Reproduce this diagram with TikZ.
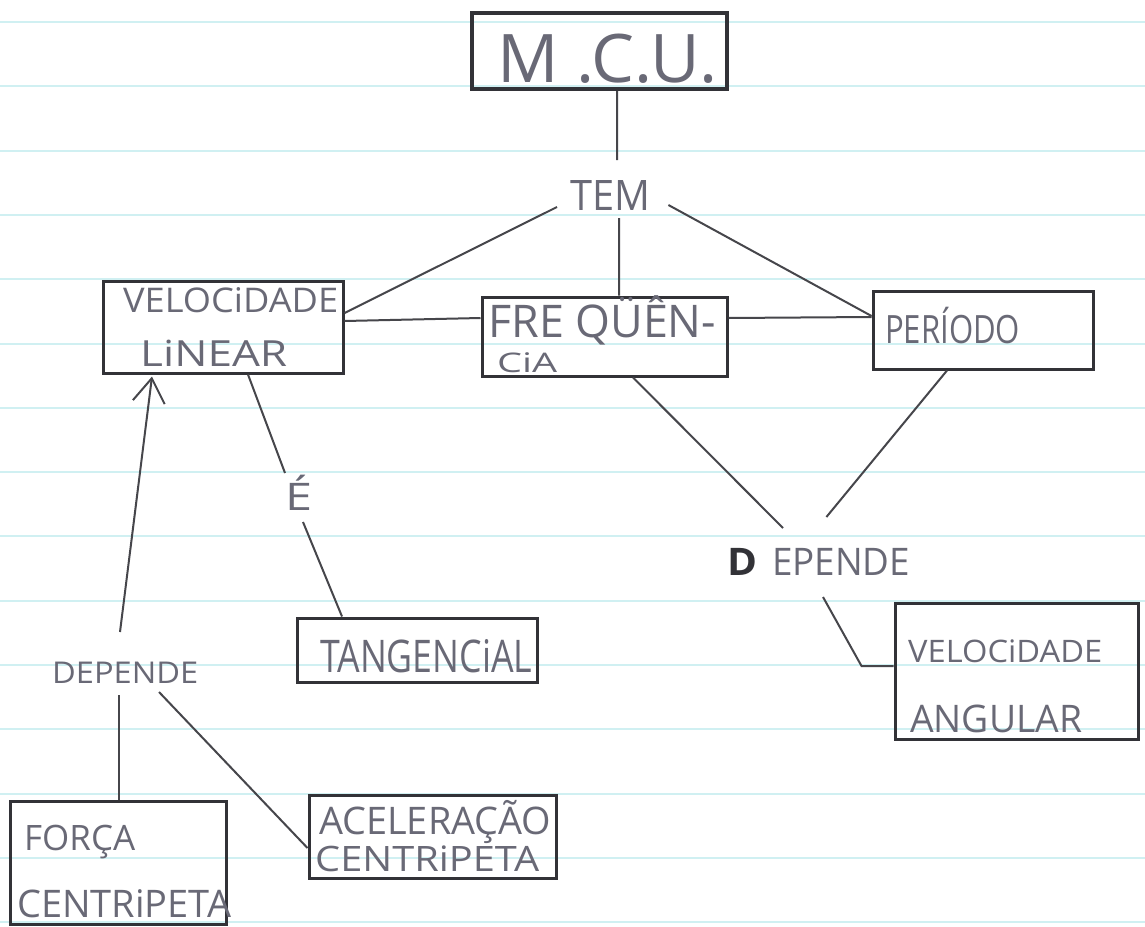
\documentclass[tikz,border=0pt]{standalone}
\usepackage{fontspec}
\setmainfont{Open Sans}
\usepackage{graphicx}
\usetikzlibrary{calc,arrows.meta}

\definecolor{paper}{RGB}{255,255,255}
\definecolor{rule}{RGB}{208,240,242}
\definecolor{boxink}{RGB}{50,50,55}
\definecolor{lineink}{RGB}{70,70,75}
\definecolor{pencil}{RGB}{105,105,118}

% hand-lettered word: font size, exact width, text
\newcommand\hw[3]{{\fontsize{#1pt}{#1pt}\selectfont\resizebox{#2pt}{\height}{#3}}}

\begin{document}
\begin{tikzpicture}[x=1pt,y=-1pt,
  box/.style={draw=boxink, line width=3pt, rectangle, inner sep=0pt},
  word/.style={anchor=base west, inner sep=0pt, text=pencil},
  link/.style={draw=lineink, line width=2pt},
]
% ruled notebook paper
\fill[paper] (0,0) rectangle (1145,926);
\useasboundingbox (0,0) rectangle (1145,926);
\foreach \k in {0,...,14}
  \draw[rule, line width=2pt] (0,22+64.3*\k) -- (1145,22+64.3*\k);

% concept boxes
\node[box, line width=4pt, minimum width=255pt, minimum height=76pt] (mcu) at (599.5,51) {};
\node[box, minimum width=240pt, minimum height=92pt] (vl) at (223,327) {};
\node[box, minimum width=245pt, minimum height=79pt] (freq) at (604.5,336.5) {};
\node[box, minimum width=220pt, minimum height=78pt] (per) at (983,330) {};
\node[box, minimum width=240pt, minimum height=64pt] (tang) at (417,650) {};
\node[box, minimum width=243pt, minimum height=136pt] (va) at (1016.5,671) {};
\node[box, minimum width=216pt, minimum height=123pt] (forca) at (118,862.5) {};
\node[box, minimum width=247pt, minimum height=83pt] (acel) at (432.5,836.5) {};

% words inside the boxes
\node[word] (mcuT) at (497,82) {\hw{67}{220}{M .C.U.}};
\node[word] (vlA) at (123,312) {\hw{34}{215}{VELOCiDADE}};
\node[word] (vlB) at (140,366) {\hw{36}{147}{LiNEAR}};
\node[word] (freqA) at (488,337) {\hw{45}{228}{FRE QÜÊN-}};
\node[word] (freqB) at (497,372) {\hw{27}{60}{CiA}};
\node[word] (perT) at (885,343) {\hw{39}{135}{PERÍODO}};
\node[word] (tangT) at (320,672) {\hw{45}{212}{TANGENCiAL}};
\node[word] (vaA) at (908,662) {\hw{31}{194}{VELOCiDADE}};
\node[word] (vaB) at (910,732) {\hw{38}{172}{ANGULAR}};
\node[word] (forcaA) at (24,850) {\hw{35}{111}{FORÇA}};
\node[word] (forcaB) at (17,917) {\hw{38}{214}{CENTRiPETA}};
\node[word] (acelA) at (319,834) {\hw{38}{232}{ACELERAÇÃO}};
\node[word] (acelB) at (315,871) {\hw{35}{224}{CENTRiPETA}};

% linking words
\node[word] (tem) at (570,210) {\hw{42}{80}{TEM}};
\node[word] (ee) at (285,510) {\hw{38}{27}{É}};
\node[word] (depL) at (52,683) {\hw{30}{146}{DEPENDE}};
\node[word] (depR) at (727,575) {\hw{38}{30}{\textcolor{boxink}{\bfseries D}}\hspace{15pt}\hw{38}{138}{EPENDE}};

% connectors
\draw[link] ($(mcu.south)+(17.5,0)$) -- ($(tem.base)+(7,-50)$);
\draw[link] ($(tem.base west)+(-13,-3)$) -- ($(vl.east)+(0,-14)$);
\draw[link] ($(tem.base)+(9,8)$) -- ($(freq.north)+(14.5,0)$);
\draw[link] ($(tem.base east)+(18,-5)$) -- ($(per.west)+(0,-14)$);
\draw[link] ($(vl.east)+(0,-6)$) -- ($(freq.west)+(0,-18.5)$);
\draw[link] ($(freq.east)+(0,-18.5)$) -- ($(per.west)+(0,-13)$);
\draw[link] ($(freq.south)+(28.5,0)$) -- ($(depR.base west)+(56,-47)$);
\draw[link] ($(per.south)+(-36,0)$) -- ($(depR.base east)+(-84,-58)$);
\draw[link] ($(depR.base west)+(96,22)$) -- ($(va.west)+(-32,-5)$) -- ($(va.west)+(0,-5)$);
\draw[link] ($(vl.south)+(25,0)$) -- ($(ee.base west)+(0,-37)$);
\draw[link] ($(ee.base west)+(18,12)$) -- ($(tang.north)+(-75,0)$);
\draw[link, -{Straight Barb[length=24pt,width=32pt]}] ($(depL.base west)+(68,-51)$) -- ($(vl.south)+(-71,2)$);
\draw[link] ($(depL.base west)+(67,12)$) -- ($(forca.north)+(1,0)$);
\draw[link] ($(depL.base west)+(107,9)$) -- ($(acel.west)+(0,11.5)$);
\end{tikzpicture}
\end{document}
